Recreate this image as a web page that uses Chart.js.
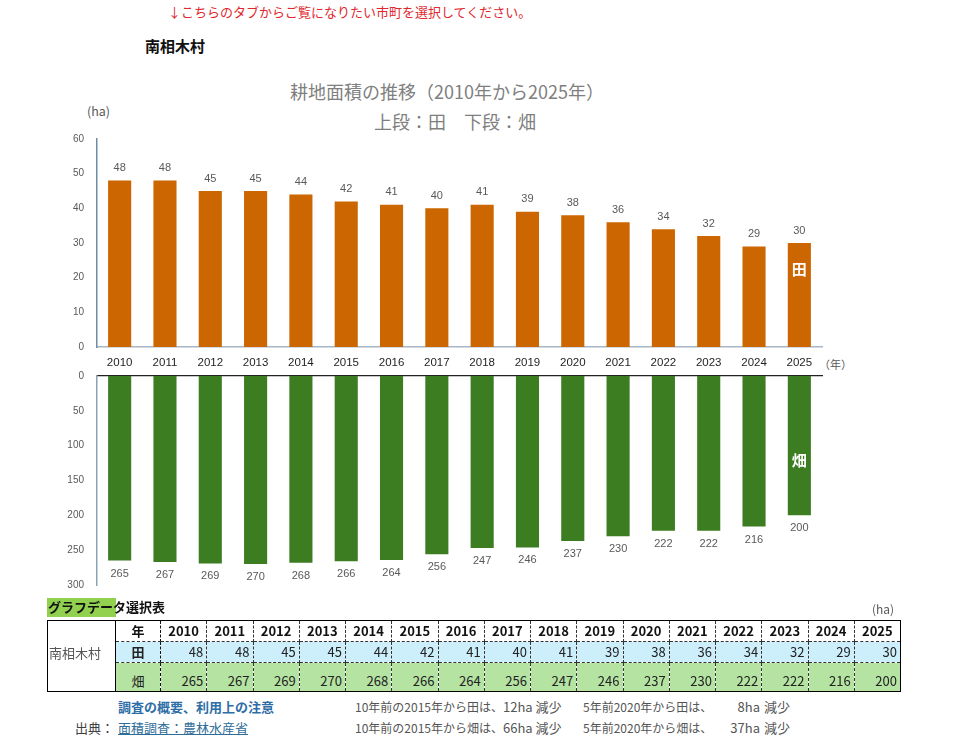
<!DOCTYPE html>
<html lang="ja">
<head>
<meta charset="utf-8">
<script src="https://cdn.jsdelivr.net/npm/chart.js@4.4.1/dist/chart.umd.min.js"></script>
<style>
  html, body { margin:0; padding:0; background:#fff; }
  body { width:960px; height:739px; position:relative; overflow:hidden; font-family:"Noto Sans CJK JP","Noto Sans",sans-serif; color:#404040; }
  .abs { position:absolute; white-space:nowrap; }
  canvas { position:absolute; }
  #tbl { position:absolute; left:47px; top:620px; border-collapse:collapse; table-layout:fixed; font-size:13px; border:1px solid #000; }
  #tbl td { padding:0 3px; border:1px dashed #333; line-height:18px; color:#222; overflow:hidden; }
  #tbl tr.h td { height:20px; }
  #tbl tr.p td { height:20px; }
  #tbl tr.f td { height:27px; vertical-align:bottom; padding-bottom:1px; }
  #tbl td.y { text-align:center; font-weight:bold; color:#111; }
  #tbl td.v { text-align:right; }
  #tbl td.k { text-align:center; border-right:1.5px dashed #111; }
  #tbl tr.p td.v, #tbl tr.p td.k { background:#cdeefb; }
  #tbl tr.f td.v, #tbl tr.f td.k { background:#b5e3a2; }
  #tbl td.name { border-right:1px solid #000; background:#fff; text-align:left; vertical-align:middle; color:#555; padding:0 0 6px 1px; }
  .note { font-size:12px; color:#555; }
  .amt { font-size:13px; color:#555; }
</style>
</head>
<body>
<script>
// ---- data ----
const years = ["2010","2011","2012","2013","2014","2015","2016","2017","2018","2019","2020","2021","2022","2023","2024","2025"];
const paddyValues = [48,48,45,45,44,42,41,40,41,39,38,36,34,32,29,30];
const fieldValues = [265,267,269,270,268,266,264,256,247,246,237,230,222,222,216,200];
const paddyTicks = [0,10,20,30,40,50,60];
const fieldTicks = [0,50,100,150,200,250,300];
const paddyName = "田";
const fieldName = "畑";
const placeName = "南相木村";
</script>

<div class="abs" style="left:168px;top:2px;font-size:13px;color:#e0282e;">↓こちらのタブからご覧になりたい市町を選択してください。</div>
<div class="abs" style="left:145px;top:35px;font-size:15px;font-weight:bold;color:#111;">南相木村</div>
<div class="abs" style="left:0;width:894px;text-align:center;top:78px;font-size:18px;color:#7f7f7f;">耕地面積の推移（2010年から2025年）</div>
<div class="abs" style="left:0;width:910px;text-align:center;top:108px;font-size:18px;color:#7f7f7f;">上段：田　下段：畑</div>
<div class="abs" style="left:87px;top:101px;font-size:12.5px;color:#595959;">(ha)</div>
<div class="abs" style="left:819px;top:356px;font-size:11px;color:#595959;">（年）</div>

<canvas id="top" width="960" height="260" style="left:0;top:120px;"></canvas>
<canvas id="bot" width="960" height="247" style="left:0;top:357px;"></canvas>

<div class="abs" style="left:47px;top:598px;width:69px;height:19px;background:#92d050;"></div>
<div class="abs" style="left:48px;top:597px;font-size:13px;font-weight:bold;color:#111;line-height:20px;">グラフデータ選択表</div>
<div class="abs" style="left:872px;top:599px;font-size:12px;color:#595959;line-height:20px;">(ha)</div>

<table id="tbl"></table>

<div class="abs" style="left:118px;top:697px;font-size:13px;font-weight:bold;color:#2e6ea6;">調査の概要、利用上の注意</div>
<div class="abs" style="left:75px;top:718px;font-size:13px;color:#404040;">出典：</div>
<div class="abs" style="left:118px;top:718px;font-size:13px;color:#2f6d99;text-decoration:underline;">面積調査：農林水産省</div>

<div class="abs note" style="left:355px;top:698px;">10年前の2015年から田は、</div>
<div class="abs amt" style="left:503px;top:697px;">12ha 減少</div>
<div class="abs note" style="left:583px;top:698px;">5年前2020年から田は、</div>
<div class="abs amt" style="left:700px;width:60px;text-align:right;top:697px;">8ha</div>
<div class="abs amt" style="left:764px;top:697px;">減少</div>

<div class="abs note" style="left:355px;top:719px;">10年前の2015年から畑は、</div>
<div class="abs amt" style="left:503px;top:718px;">66ha 減少</div>
<div class="abs note" style="left:583px;top:719px;">5年前2020年から畑は、</div>
<div class="abs amt" style="left:700px;width:60px;text-align:right;top:718px;">37ha</div>
<div class="abs amt" style="left:764px;top:718px;">減少</div>

<script>
// ---- table ----
(function(){
  const t = document.getElementById('tbl');
  let cg = '<colgroup><col style="width:68px"><col style="width:45px">';
  years.forEach(()=>{ cg += '<col style="width:46.25px">'; });
  cg += '</colgroup>';
  let h = cg + '<tr class="h"><td class="name" rowspan="3">' + placeName + '</td><td class="y k" style="background:#fff">年</td>';
  years.forEach(y=>{ h += '<td class="y">' + y + '</td>'; });
  h += '</tr><tr class="p"><td class="k" style="font-weight:bold">' + paddyName + '</td>';
  paddyValues.forEach(v=>{ h += '<td class="v">' + v + '</td>'; });
  h += '</tr><tr class="f"><td class="k">' + fieldName + '</td>';
  fieldValues.forEach(v=>{ h += '<td class="v">' + v + '</td>'; });
  h += '</tr>';
  t.innerHTML = h;
})();

// ---- charts ----
const numFont = "'Liberation Sans', Arial, sans-serif";
const valuePlugin = {
  id: 'valueLabels',
  afterDatasetsDraw(chart, args, opts) {
    const ctx = chart.ctx;
    const meta = chart.getDatasetMeta(0);
    const data = chart.data.datasets[0].data;
    ctx.save();
    ctx.font = "11px " + numFont;
    ctx.fillStyle = '#595959';
    ctx.textAlign = 'center';
    meta.data.forEach((bar, i) => {
      if (opts.below) {
        ctx.textBaseline = 'middle';
        ctx.fillText(String(data[i]), bar.x, bar.y + 13);
      } else {
        ctx.textBaseline = 'bottom';
        ctx.fillText(String(data[i]), bar.x, bar.y - 7);
      }
    });
    const last = meta.data[meta.data.length - 1];
    ctx.font = "bold 15px 'Noto Sans CJK JP', sans-serif";
    ctx.fillStyle = '#ffffff';
    ctx.textBaseline = 'middle';
    ctx.fillText(opts.name, last.x, chart.scales.y.getPixelForValue(opts.nameAt));
    ctx.restore();
  }
};

new Chart(document.getElementById('top'), {
  type: 'bar',
  data: { labels: years, datasets: [{ data: paddyValues, backgroundColor: '#cc6600', barPercentage: 0.51, categoryPercentage: 1.0 }] },
  plugins: [valuePlugin],
  options: {
    responsive: false, animation: false,
    layout: { padding: { top: 17, right: 138, left: 0, bottom: 0 } },
    plugins: { legend: { display: false }, tooltip: { enabled: false }, valueLabels: { below: false, name: paddyName, nameAt: 22.5 } },
    scales: {
      x: {
        grid: { display: false, drawTicks: false },
        border: { color: '#a7b6c6', width: 1.5 },
        ticks: { color: '#1f1f1f', font: { size: 11.5, family: numFont }, padding: 9, maxRotation: 0 },
        afterFit(s) { s.height = 33; }
      },
      y: {
        min: 0, max: 60,
        afterBuildTicks(s) { s.ticks = paddyTicks.map(v => ({ value: v })); },
        grid: { display: false, drawTicks: false },
        border: { color: '#6d8ca3', width: 1.5 },
        ticks: { color: '#595959', font: { size: 10, family: numFont }, padding: 13 },
        afterFit(s) { s.width = 97; }
      }
    }
  }
});

new Chart(document.getElementById('bot'), {
  type: 'bar',
  data: { labels: years, datasets: [{ data: fieldValues, backgroundColor: '#3c7d22', barPercentage: 0.51, categoryPercentage: 1.0 }] },
  plugins: [valuePlugin],
  options: {
    responsive: false, animation: false,
    layout: { padding: { top: 11, right: 138, left: 0, bottom: 11 } },
    plugins: { legend: { display: false }, tooltip: { enabled: false }, valueLabels: { below: true, name: fieldName, nameAt: 121 } },
    scales: {
      x: {
        position: 'top',
        grid: { display: false, drawTicks: false },
        border: { color: '#222', width: 1.2 },
        ticks: { display: false },
        afterFit(s) { s.height = 0; }
      },
      y: {
        min: 0, max: 300, reverse: true,
        afterBuildTicks(s) { s.ticks = fieldTicks.map(v => ({ value: v })); },
        grid: { display: false, drawTicks: false },
        border: { color: '#8aa3b6', width: 1.5 },
        ticks: { color: '#595959', font: { size: 10, family: numFont }, padding: 13 },
        afterFit(s) { s.width = 97; }
      }
    }
  }
});
</script>
</body>
</html>
